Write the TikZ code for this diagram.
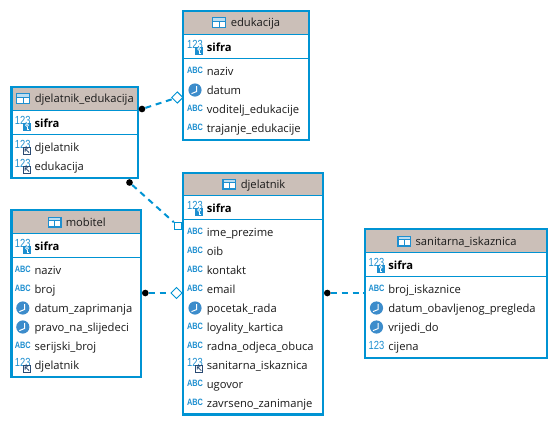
\documentclass[tikz,border=0pt]{standalone}
\usepackage{graphicx}
\usepackage{fontspec}
\setmainfont{Open Sans}
\newfontfamily\iconfont{Liberation Sans}
\usetikzlibrary{fit,shapes.geometric}
\definecolor{erblue}{HTML}{0093D3}
\definecolor{hdr}{HTML}{CBBFB8}
\definecolor{iconblue}{HTML}{1E8FD0}
\definecolor{clockblue}{HTML}{3C8CCB}
\definecolor{fkdark}{HTML}{2A4A73}
\definecolor{txt}{HTML}{1A1A1A}
\tikzset{
  frame/.style={draw=erblue,line width=1.75pt,inner sep=0pt},
  seprule/.style={draw=erblue,line width=.75pt},
  fieldtext/.style={anchor=west,inner sep=0pt,text height=6pt,text depth=0pt,text=txt,font=\fontsize{8.4pt}{10pt}\selectfont},
  keytext/.style={fieldtext,font=\fontsize{8.4pt}{10pt}\selectfont\bfseries,text=black},
  abctext/.style={anchor=center,inner sep=0pt,text=iconblue,font=\iconfont\fontsize{6.9pt}{7pt}\selectfont\bfseries},
  numtext/.style={anchor=center,inner sep=0pt,text=iconblue,font=\iconfont\fontsize{8.8pt}{9pt}\selectfont},
  rel/.style={draw=erblue,line width=1.5pt,dash pattern=on 4.5pt off 3.6pt},
  dotend/.style={circle,fill=black,inner sep=0pt,minimum size=5pt},
  diamondend/.style={diamond,draw=erblue,fill=white,line width=.75pt,inner sep=0pt,minimum size=8.6pt},
  squareend/.style={rectangle,draw=erblue,fill=white,line width=.75pt,inner sep=0pt,minimum size=5.6pt},
}
\newcommand{\narrow}[1]{\scalebox{.8}[1]{#1}}
\newcommand{\tablebox}[8]{% name x1 y1 x2 y2 hdrbottom sep title-free
  \fill[hdr] (#2,#3) rectangle (#4,#6);
  \fill[white] (#2,#6) rectangle (#4,#5);
  \draw[seprule] (#2,#6) -- (#4,#6);
  \draw[seprule] (#2,#7) -- (#4,#7);
  \coordinate (#1-a) at (#2,#3);
  \coordinate (#1-b) at (#4,#5);
  \node[frame,fit=(#1-a)(#1-b)] (#1) {};
}
\newcommand{\tabletitle}[5]{% name iconx textx y title
  \fill[iconblue] (#2,#4-5.5) rectangle ++(14,11);
  \fill[white] (#2+1.2,#4-.7) rectangle ++(5.3,4.8);
  \fill[white] (#2+7.5,#4-.7) rectangle ++(5.3,4.8);
  \fill[white!70!iconblue] (#2+1.2,#4-4.3) rectangle ++(11.6,2.7);
  \node[fieldtext] (#1-title) at (#3,#4) {#5};
}
\newcommand{\abcfield}[4]{% name x y text
  \node[abctext] (#1-i) at (#2-11.5,#3-.8) {\narrow{ABC}};
  \node[fieldtext] (#1) at (#2,#3) {#4};
}
\newcommand{\clockfield}[4]{%
  \fill[clockblue] (#2-11.5,#3) circle[radius=6.6];
  \draw[white,line width=.75pt] (#2-9.8,#3-4) -- (#2-9.8,#3+1.5) -- (#2-15,#3+3.6);
  \node[fieldtext] (#1) at (#2,#3) {#4};
}
\newcommand{\numfield}[4]{%
  \node[numtext] (#1-i) at (#2-11.5,#3-.8) {\narrow{123}};
  \node[fieldtext] (#1) at (#2,#3) {#4};
}
\newcommand{\fkfield}[4]{%
  \node[numtext] (#1-i) at (#2-11.5,#3-2.5) {\narrow{123}};
  \fill[white] (#2-11.5,#3-.5) rectangle ++(8.3,8.3);
  \draw[fkdark,line width=.7pt] (#2-10.8,#3+.2) rectangle ++(7,7);
  \draw[fkdark,line width=.6pt] (#2-5.2,#3+5.6) -- (#2-9.2,#3+1.8) (#2-9.2,#3+4.6) -- (#2-9.2,#3+1.8) -- (#2-6.2,#3+1.8);
  \node[fieldtext] (#1) at (#2,#3) {#4};
}
\newcommand{\keyfield}[4]{%
  \node[numtext] (#1-i) at (#2-11.5,#3-2.5) {\narrow{123}};
  \fill[iconblue] (#2-11.5,#3-.5) rectangle ++(8.3,8.3);
  \draw[white,line width=.6pt] (#2-7.3,#3+2.1) circle[radius=1.5];
  \draw[white,line width=.6pt] (#2-7.3,#3+3.6) -- (#2-7.3,#3+6.6) -- (#2-5.8,#3+6.6);
  \node[keytext] (#1) at (#2,#3) {#4};
}
\begin{document}
\begin{tikzpicture}[x=.75pt,y=-.75pt]
\useasboundingbox (0,0) rectangle (558,426);

% edukacija
\tablebox{edu}{183.3}{11}{308.7}{139.7}{34.3}{58.3}{}
\tabletitle{edu}{212}{230.5}{22.5}{edukacija}
\keyfield{edu-sifra}{206.5}{47}{sifra}
\abcfield{edu-naziv}{206.5}{71}{naziv}
\clockfield{edu-datum}{206.5}{90}{datum}
\abcfield{edu-vod}{206.5}{109}{voditelj\_edukacije}
\abcfield{edu-traj}{206.5}{128}{trajanje\_edukacije}

% djelatnik_edukacija
\tablebox{de}{11.5}{87}{137.7}{177.7}{110.3}{134.7}{}
\tabletitle{de}{16}{34.5}{98.5}{djelatnik\_edukacija}
\keyfield{de-sifra}{34.3}{123}{sifra}
\fkfield{de-djel}{34.3}{147}{djelatnik}
\fkfield{de-edu}{34.3}{166}{edukacija}

% djelatnik
\tablebox{dj}{183.3}{172.7}{323}{414.6}{195.3}{219.3}{}
\tabletitle{dj}{222.3}{240.5}{184}{djelatnik}
\keyfield{dj-sifra}{206.5}{208}{sifra}
\abcfield{dj-ime}{206.5}{232}{ime\_prezime}
\abcfield{dj-oib}{206.5}{251}{oib}
\abcfield{dj-kontakt}{206.5}{270}{kontakt}
\abcfield{dj-email}{206.5}{289}{email}
\clockfield{dj-pocetak}{206.5}{308}{pocetak\_rada}
\abcfield{dj-loy}{206.5}{327}{loyality\_kartica}
\abcfield{dj-radna}{206.5}{346}{radna\_odjeca\_obuca}
\fkfield{dj-san}{206.5}{365}{sanitarna\_iskaznica}
\abcfield{dj-ugovor}{206.5}{384}{ugovor}
\abcfield{dj-zav}{206.5}{403}{zavrseno\_zanimanje}

% mobitel
\tablebox{mob}{11.5}{210.3}{140.7}{376.7}{233.3}{257.3}{}
\tabletitle{mob}{47.5}{65.5}{222}{mobitel}
\keyfield{mob-sifra}{34.3}{246}{sifra}
\abcfield{mob-naziv}{34.3}{270}{naziv}
\abcfield{mob-broj}{34.3}{289}{broj}
\clockfield{mob-dat}{34.3}{308}{datum\_zaprimanja}
\clockfield{mob-pravo}{34.3}{327}{pravo\_na\_slijedeci}
\abcfield{mob-ser}{34.3}{346}{serijski\_broj}
\fkfield{mob-djel}{34.3}{365}{djelatnik}

% sanitarna_iskaznica
\tablebox{san}{365}{229.3}{547}{357.7}{252.3}{276.3}{}
\tabletitle{san}{397.3}{415.3}{241}{sanitarna\_iskaznica}
\keyfield{san-sifra}{388}{265}{sifra}
\abcfield{san-broj}{388}{289}{broj\_iskaznice}
\clockfield{san-dat}{388}{308}{datum\_obavljenog\_pregleda}
\clockfield{san-vri}{388}{327}{vrijedi\_do}
\numfield{san-cij}{388}{346}{cijena}

% relationships
\node[dotend] (r1a) at (142,109) {};
\node[diamondend] (r1b) at (177.3,97.5) {};
\draw[rel] (r1a) -- (r1b);
\node[dotend] (r2a) at (129.5,182.5) {};
\node[squareend] (r2b) at (178,226) {};
\draw[rel] (r2a) -- (r2b);
\node[dotend] (r3a) at (145.3,293) {};
\node[diamondend] (r3b) at (176.5,293) {};
\draw[rel] (r3a) -- (r3b);
\node[dotend] (r4a) at (327.3,293) {};
\coordinate (r4b) at (san.west |- r4a);
\draw[rel] (r4a) -- (r4b);
\end{tikzpicture}
\end{document}
